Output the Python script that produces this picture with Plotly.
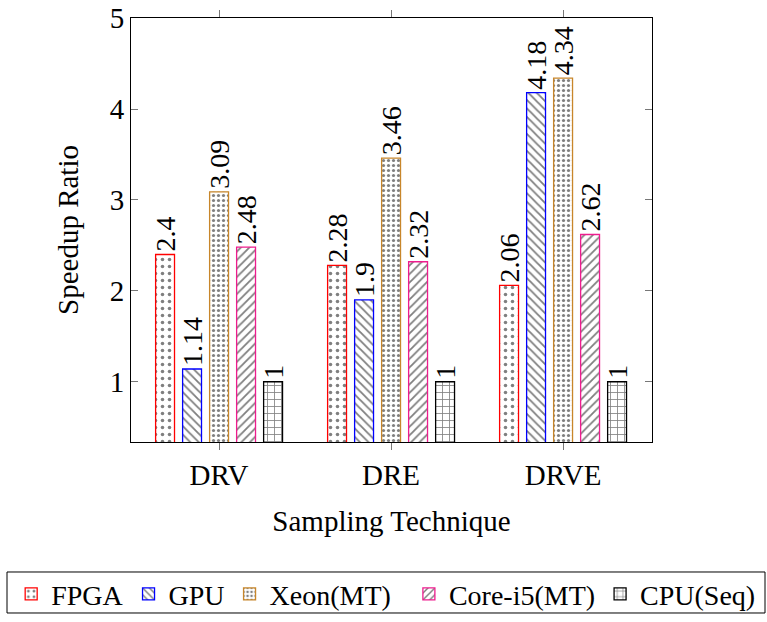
import plotly.graph_objects as go

categories = ["DRV", "DRE", "DRVE"]
series_names = ["FPGA", "GPU", "Xeon(MT)", "Core-i5(MT)", "CPU(Seq)"]
fpga = [2.4, 2.28, 2.06]
gpu = [1.14, 1.9, 4.18]
xeon = [3.09, 3.46, 4.34]
corei5 = [2.48, 2.32, 2.62]
cpu = [1, 1, 1]
y_ticks = [1, 2, 3, 4, 5]

series_values = [fpga, gpu, xeon, corei5, cpu]
line_colors = ["#FF0000", "#0000FF", "#C8862A", "#EE1C8E", "#000000"]
legend_ids = ["legend", "legend", "legend", "legend2", "legend2"]
patterns = [
    dict(shape=".", size=7, solidity=0.2),
    dict(shape="\\", size=6, solidity=0.3),
    dict(shape=".", size=5, solidity=0.32),
    dict(shape="/", size=6, solidity=0.3),
    dict(shape="+", size=7, solidity=0.22),
]

FONT = "Liberation Serif"
FS = 29
LFS = 28

fig = go.Figure()
for name, vals, lc, pat, lg in zip(series_names, series_values, line_colors, patterns, legend_ids):
    fig.add_trace(go.Bar(
        name=name,
        x=categories,
        y=vals,
        legend=lg,
        text=[f"{v:g}" for v in vals],
        textposition="outside",
        textangle=-90,
        constraintext="none",
        cliponaxis=False,
        textfont=dict(family=FONT, size=28, color="black"),
        marker=dict(
            color="white",
            line=dict(color=lc, width=1.3),
            pattern=dict(fgcolor="black", bgcolor="white", fillmode="overlay", **pat),
        ),
    ))

legend_common = dict(
    orientation="h",
    y=-0.3,
    yanchor="top",
    bgcolor="rgba(0,0,0,0)",
    borderwidth=0,
    font=dict(family=FONT, size=LFS),
    itemwidth=30,
    tracegroupgap=0,
)

fig.update_layout(
    width=767,
    height=622,
    margin=dict(l=131, r=115, t=18, b=180, autoexpand=False),
    paper_bgcolor="white",
    plot_bgcolor="white",
    barmode="group",
    bargap=0.215,
    bargroupgap=0.3,
    font=dict(family=FONT, size=FS, color="black"),
    showlegend=True,
    legend=dict(x=-0.23, xanchor="left", **legend_common),
    legend2=dict(x=1.209, xanchor="right", **legend_common),
    xaxis=dict(
        range=[-0.512, 2.517],
        showline=True,
        linecolor="black",
        linewidth=1,
        mirror="ticks",
        ticks="outside",
        ticklen=7,
        tickcolor="#777777",
        showgrid=False,
        title=dict(text="Sampling Technique", font=dict(family=FONT, size=FS), standoff=20),
        tickfont=dict(family=FONT, size=FS),
    ),
    yaxis=dict(
        range=[0.337, 5.002],
        tickvals=y_ticks,
        ticklabeloverflow="allow",
        showline=True,
        linecolor="black",
        linewidth=1,
        mirror="ticks",
        ticks="inside",
        ticklen=7,
        tickcolor="#777777",
        showgrid=False,
        zeroline=False,
        title=dict(text="Speedup Ratio", font=dict(family=FONT, size=FS), standoff=22),
        tickfont=dict(family=FONT, size=FS),
    ),
    shapes=[dict(
        type="rect", xref="paper", yref="paper",
        x0=-0.238, x1=1.2169, y0=-0.4033, y1=-0.3066,
        line=dict(color="black", width=1), fillcolor="rgba(0,0,0,0)",
    )],
)

fig.write_html("out.html")
